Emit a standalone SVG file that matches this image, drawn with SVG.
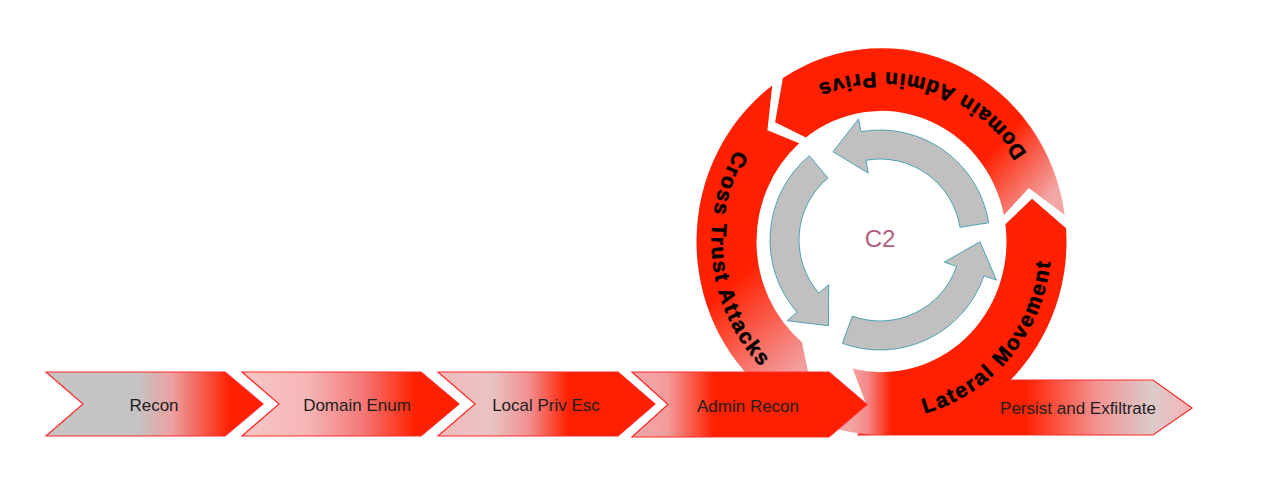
<svg xmlns="http://www.w3.org/2000/svg" width="1264" height="499" viewBox="0 0 1264 499">
<style>
.chev{stroke:#ff2a2a;stroke-width:1.2;stroke-linejoin:miter}
.lbl{font-family:"Liberation Sans",Arial,sans-serif;font-size:17px;fill:#1e1e1e;text-anchor:middle}
.ring{font-family:"Liberation Sans",Arial,sans-serif;font-weight:bold;font-size:21px;fill:#000;stroke:#000;stroke-width:0.5;letter-spacing:2px}
.gray{fill:#c0c0c0;stroke:#4ba3b5;stroke-width:1}
</style>
<defs>
<linearGradient id="gRecon" gradientUnits="userSpaceOnUse" x1="46" y1="0" x2="263" y2="0">
<stop offset="0" stop-color="#c4c4c4"/><stop offset="0.42" stop-color="#c4c4c4"/><stop offset="0.58" stop-color="#eba0a0"/><stop offset="0.85" stop-color="#ff2000"/><stop offset="1" stop-color="#ff2000"/>
</linearGradient>
<linearGradient id="gEnum" gradientUnits="userSpaceOnUse" x1="242" y1="0" x2="459" y2="0">
<stop offset="0" stop-color="#f7c6c6"/><stop offset="0.3" stop-color="#f6b6b6"/><stop offset="0.55" stop-color="#f47a7a"/><stop offset="0.8" stop-color="#ff2000"/><stop offset="1" stop-color="#ff2000"/>
</linearGradient>
<linearGradient id="gLocal" gradientUnits="userSpaceOnUse" x1="438" y1="0" x2="655" y2="0">
<stop offset="0" stop-color="#f3bcbc"/><stop offset="0.25" stop-color="#e9c2c2"/><stop offset="0.42" stop-color="#f19090"/><stop offset="0.6" stop-color="#ff2000"/><stop offset="1" stop-color="#ff2000"/>
</linearGradient>
<linearGradient id="gAdmin" gradientUnits="userSpaceOnUse" x1="632" y1="0" x2="867" y2="0">
<stop offset="0" stop-color="#f4a8a8"/><stop offset="0.15" stop-color="#f29c9c"/><stop offset="0.35" stop-color="#ff2000"/><stop offset="1" stop-color="#ff2000"/>
</linearGradient>
<linearGradient id="gPersist" gradientUnits="userSpaceOnUse" x1="858" y1="0" x2="1192" y2="0">
<stop offset="0" stop-color="#ff2000"/><stop offset="0.5" stop-color="#ff2000"/><stop offset="0.72" stop-color="#f39595"/><stop offset="0.88" stop-color="#dccaca"/><stop offset="1" stop-color="#f5b5b5"/>
</linearGradient>
<linearGradient id="gDomain" gradientUnits="userSpaceOnUse" x1="40" y1="-170" x2="175" y2="-50">
<stop offset="0" stop-color="#ff2000"/><stop offset="0.6" stop-color="#ff2000"/><stop offset="1" stop-color="#f2a6a6"/>
</linearGradient>
<linearGradient id="gCross" gradientUnits="userSpaceOnUse" x1="-150" y1="40" x2="-85" y2="120">
<stop offset="0" stop-color="#ff2000"/><stop offset="1" stop-color="#f39c9c"/>
</linearGradient>
<linearGradient id="gLateral" gradientUnits="userSpaceOnUse" x1="-30" y1="0" x2="10" y2="0">
<stop offset="0" stop-color="#f4a4a4"/><stop offset="0.4" stop-color="#f48888"/><stop offset="1" stop-color="#ff2000"/>
</linearGradient>
<path id="pDomain" d="M1049.85,265.02 A170,169 0 0 0 731.40,162.16"/>
<path id="pCross" d="M830.66,72.03 A170,177.6 0 0 0 873.79,418.92"/>
<path id="pLateral" d="M792.68,392.93 A170,177.6 0 0 0 1014.54,130.94"/>
</defs>
<rect x="0" y="0" width="1264" height="499" fill="#ffffff"/>

<g id="node-persist">
<polygon class="chev" fill="url(#gPersist)" points="858,380 1153,380 1192,408 1153,435 858,435 880,408"/>
</g>

<g id="ring" transform="translate(881.5,241.5) scale(1,1.045)">
<g id="node-cross-trust">
<path fill="url(#gCross)" d="M-109.26,-149.29 A185,185 0 0 0 -113.90,145.78 L-70.34,139.24 L-79.51,96.45 A125,125 0 0 1 -82.34,-94.05 L-114.09,-106.39 Z"/>
</g>
<g id="node-domain-admin">
<path fill="url(#gDomain)" d="M183.24,-25.43 A185,185 0 0 0 -98.61,-156.53 L-106.39,-114.09 L-75.58,-99.57 A125,125 0 0 1 122.45,-25.14 L147.32,-51.30 Z"/>
</g>
<g id="node-lateral">
<path fill="url(#gLateral)" d="M-28.97,121.60 L-15.49,155.23 L-42.88,179.96 A185,185 0 0 0 184.57,-12.58 L150.54,-40.90 L123.90,-16.53 A125,125 0 0 1 -28.97,121.60 Z"/>
</g>
</g>

<g id="connectors" transform="translate(880,240)">
<path class="gray" d="M108.65,-17.21 A110,110 0 0 0 -19.10,-108.33 L-21.36,-121.13 L-46.95,-88.30 L-11.81,-66.97 L-14.07,-79.77 A81,81 0 0 1 80.00,-12.67 Z"/>
<path class="gray" d="M-70.71,-84.26 A110,110 0 0 0 -83.02,72.17 L-92.83,80.70 L-51.50,85.72 L-51.32,44.61 L-61.13,53.14 A81,81 0 0 1 -52.07,-62.05 Z"/>
<path class="gray" d="M-37.62,103.37 A110,110 0 0 0 104.01,35.81 L116.30,40.05 L99.98,1.75 L64.30,22.14 L76.59,26.37 A81,81 0 0 1 -27.70,76.11 Z"/>
</g>

<g id="node-c2">
<text x="880" y="247" font-family="'Liberation Sans',Arial,sans-serif" font-size="24" fill="#b0607e" text-anchor="middle">C2</text>
</g>

<g id="node-recon">
<polygon class="chev" fill="url(#gRecon)" points="46,372 225,372 263,404 225,436 46,436 83,404"/>
<text class="lbl" x="154" y="411">Recon</text>
</g>
<g id="node-domain-enum">
<polygon class="chev" fill="url(#gEnum)" points="242,372 421,372 459,404 421,436 242,436 279,404"/>
<text class="lbl" x="357" y="411">Domain Enum</text>
</g>
<g id="node-local-priv-esc">
<polygon class="chev" fill="url(#gLocal)" points="438,372 618,372 655,404 618,436 438,436 475,404"/>
<text class="lbl" x="546" y="411">Local Priv Esc</text>
</g>
<g id="node-admin-recon">
<polygon class="chev" fill="url(#gAdmin)" points="632,372 829,372 867,404.5 829,437 632,437 668,404.5"/>
<text class="lbl" x="748" y="412">Admin Recon</text>
</g>

<g id="ring-labels">
<text class="ring"><textPath href="#pDomain" startOffset="50%" text-anchor="middle">Domain Admin Privs</textPath></text>
<text class="ring"><textPath href="#pCross" startOffset="50%" text-anchor="middle">Cross Trust Attacks</textPath></text>
<text class="ring"><textPath href="#pLateral" startOffset="50%" text-anchor="middle">Lateral Movement</textPath></text>
</g>
<text class="lbl" x="1078" y="414">Persist and Exfiltrate</text>
</svg>
